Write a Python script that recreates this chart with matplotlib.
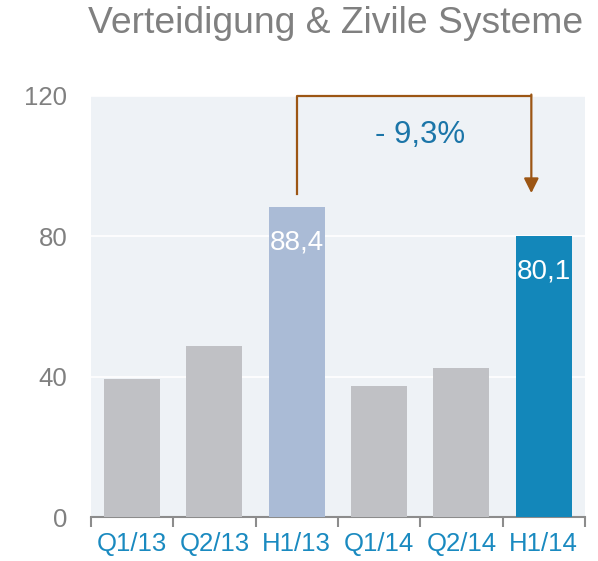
import matplotlib.pyplot as plt
import numpy as np

plt.rcParams['font.family'] = ['Liberation Sans', 'DejaVu Sans']

# data
periods = ['Q1/13', 'Q2/13', 'H1/13', 'Q1/14', 'Q2/14', 'H1/14']
values = [39.2, 48.6, 88.4, 37.3, 42.4, 80.1]
bar_colors = ['#c0c1c5', '#c0c1c5', '#aabbd6', '#c0c1c5', '#c0c1c5', '#1387ba']
labelled = {2: '88,4', 5: '80,1'}
change_text = '- 9,3%'

fig = plt.figure(figsize=(5.98, 5.61), dpi=100)
ax = fig.add_axes([0.152, 0.0784, 0.826, 0.7506])
ax.set_facecolor('#eef2f6')

x = np.arange(len(periods))
ax.bar(x, values, width=0.68, color=bar_colors, zorder=3)

# value labels inside the highlighted bars
for i, txt in labelled.items():
    ax.text(x[i], values[i] - 10.2, txt, ha='center', va='center',
            color='white', fontsize=20, zorder=4)

ax.set_xlim(-0.5, len(periods) - 0.5)
ax.set_ylim(0, 120)
ax.set_yticks([0, 40, 80, 120])
ax.grid(axis='y', color='white', linewidth=1.2, zorder=1)
ax.tick_params(axis='y', length=0, labelsize=18.5, labelcolor='#808080', pad=17)

ax.set_xticks(x)
ax.set_xticklabels(periods)
ax.set_xticks(np.arange(-0.5, len(periods)), minor=True)
ax.tick_params(axis='x', which='major', length=0, labelsize=18.5,
               labelcolor='#1a8ac0', pad=11)
ax.tick_params(axis='x', which='minor', length=7, width=1.5, color='#8c8c8c')

for s in ['top', 'right', 'left']:
    ax.spines[s].set_visible(False)
ax.spines['bottom'].set_color('#8c8c8c')
ax.spines['bottom'].set_linewidth(1.5)

# bracket showing change H1/13 -> H1/14
brown = '#9c5614'
x0, x1 = 2.0, 4.85
ax.plot([x0, x0, x1], [92, 120, 120], color=brown, lw=1.6,
        clip_on=False, zorder=5)
ax.annotate('', xy=(x1, 92.3), xytext=(x1, 120.4),
            arrowprops=dict(arrowstyle='-|>', color=brown, lw=1.6,
                            mutation_scale=22, shrinkA=0, shrinkB=0),
            annotation_clip=False, zorder=5)
ax.text(3.5, 108.8, change_text, ha='center', va='center',
        color='#1b75a8', fontsize=22.5)

fig.text(0.561, 0.941, 'Verteidigung & Zivile Systeme', ha='center',
         va='baseline', color='#808080', fontsize=26.8)

fig.savefig('out.png', dpi=100)
